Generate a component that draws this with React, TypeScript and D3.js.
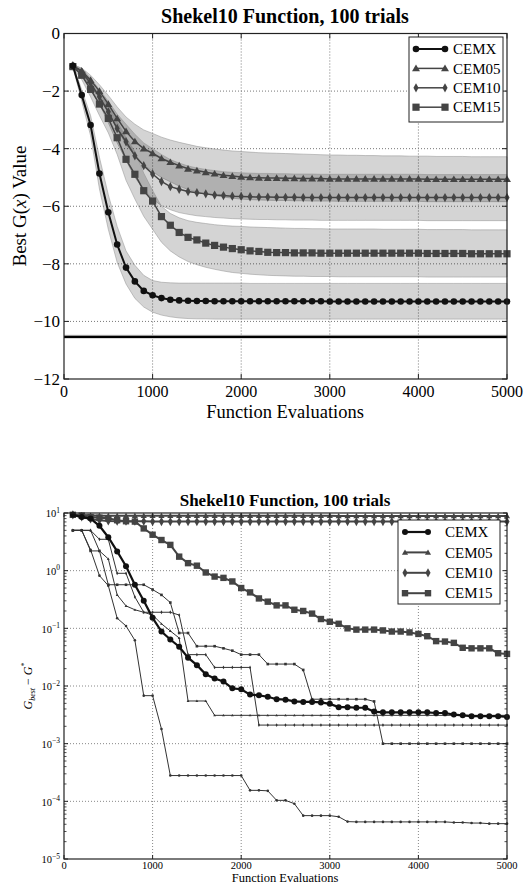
import * as d3 from "d3";

const FONT = "'Liberation Serif', 'DejaVu Serif', serif";

// function evaluations (x positions of every sample)
const evals = [
  100, 200, 300, 400, 500, 600, 700, 800, 900, 1000,
  1100, 1200, 1300, 1400, 1500, 1600, 1700, 1800, 1900, 2000,
  2100, 2200, 2300, 2400, 2500, 2600, 2700, 2800, 2900, 3000,
  3100, 3200, 3300, 3400, 3500, 3600, 3700, 3800, 3900, 4000,
  4100, 4200, 4300, 4400, 4500, 4600, 4700, 4800, 4900, 5000,
];

const seriesNames = ["CEMX", "CEM05", "CEM10", "CEM15"];
const optimum = -10.536;

// ---- top chart: best G(x), mean with band
const topCemx = [
  -1.12, -2.14, -3.18, -4.86, -6.21, -7.33, -8.13, -8.61, -8.94, -9.09,
  -9.19, -9.25, -9.27, -9.28, -9.29, -9.29, -9.3, -9.3, -9.3, -9.3,
  -9.3, -9.3, -9.3, -9.3, -9.3, -9.3, -9.3, -9.3, -9.3, -9.31,
  -9.31, -9.31, -9.31, -9.31, -9.31, -9.31, -9.31, -9.31, -9.31, -9.31,
  -9.31, -9.31, -9.31, -9.31, -9.31, -9.31, -9.31, -9.31, -9.31, -9.31,
];
const topCemxHi = [
  -1.08, -1.95, -2.85, -4.3, -5.6, -6.7, -7.55, -8.05, -8.4, -8.58,
  -8.64, -8.66, -8.67, -8.67, -8.67, -8.67, -8.67, -8.67, -8.67, -8.67,
  -8.68, -8.68, -8.68, -8.68, -8.68, -8.68, -8.68, -8.68, -8.68, -8.68,
  -8.68, -8.68, -8.68, -8.68, -8.68, -8.68, -8.68, -8.68, -8.68, -8.68,
  -8.68, -8.68, -8.68, -8.68, -8.68, -8.68, -8.68, -8.68, -8.68, -8.68,
];
const topCemxLo = [
  -1.16, -2.35, -3.55, -5.4, -6.8, -7.95, -8.7, -9.2, -9.5, -9.68,
  -9.78, -9.84, -9.88, -9.9, -9.91, -9.91, -9.92, -9.92, -9.92, -9.92,
  -9.92, -9.92, -9.92, -9.92, -9.92, -9.92, -9.92, -9.92, -9.92, -9.92,
  -9.92, -9.92, -9.92, -9.92, -9.92, -9.92, -9.92, -9.92, -9.92, -9.92,
  -9.92, -9.92, -9.92, -9.92, -9.92, -9.92, -9.92, -9.92, -9.92, -9.92,
];

const topC05 = [
  -1.12, -1.3, -1.62, -2.0, -2.45, -2.95, -3.4, -3.75, -4.0, -4.16,
  -4.34, -4.47, -4.59, -4.7, -4.76, -4.82, -4.87, -4.92, -4.95, -4.98,
  -5.0, -5.01, -5.02, -5.02, -5.03, -5.03, -5.04, -5.04, -5.04, -5.05,
  -5.05, -5.05, -5.05, -5.05, -5.05, -5.05, -5.05, -5.05, -5.05, -5.05,
  -5.06, -5.06, -5.06, -5.06, -5.06, -5.06, -5.06, -5.06, -5.06, -5.06,
];
const topC05Hi = [
  -1.08, -1.2, -1.45, -1.78, -2.15, -2.55, -2.9, -3.15, -3.35, -3.47,
  -3.6, -3.7, -3.78, -3.85, -3.92, -3.97, -4.01, -4.05, -4.08, -4.1,
  -4.12, -4.14, -4.15, -4.16, -4.17, -4.18, -4.19, -4.2, -4.21, -4.22,
  -4.22, -4.23, -4.23, -4.24, -4.24, -4.25, -4.25, -4.25, -4.26, -4.26,
  -4.26, -4.27, -4.27, -4.27, -4.27, -4.28, -4.28, -4.28, -4.28, -4.28,
];
const topC05Lo = [
  -1.16, -1.4, -1.8, -2.25, -2.75, -3.3, -3.85, -4.25, -4.55, -4.8,
  -5.0, -5.15, -5.3, -5.42, -5.5, -5.57, -5.63, -5.68, -5.72, -5.75,
  -5.77, -5.78, -5.79, -5.8, -5.8, -5.81, -5.81, -5.82, -5.82, -5.82,
  -5.83, -5.83, -5.83, -5.83, -5.83, -5.83, -5.83, -5.83, -5.83, -5.83,
  -5.84, -5.84, -5.84, -5.84, -5.84, -5.84, -5.84, -5.84, -5.84, -5.84,
];

const topC10 = [
  -1.12, -1.33, -1.73, -2.2, -2.72, -3.3, -3.76, -4.25, -4.59, -4.88,
  -5.14, -5.32, -5.41, -5.49, -5.53, -5.57, -5.61, -5.63, -5.65, -5.66,
  -5.67, -5.68, -5.68, -5.69, -5.69, -5.69, -5.7, -5.7, -5.7, -5.7,
  -5.7, -5.7, -5.7, -5.7, -5.7, -5.7, -5.7, -5.7, -5.7, -5.7,
  -5.7, -5.7, -5.7, -5.7, -5.7, -5.7, -5.7, -5.7, -5.7, -5.7,
];
const topC10Hi = [
  -1.08, -1.22, -1.55, -1.95, -2.35, -2.8, -3.15, -3.5, -3.8, -4.0,
  -4.2, -4.38, -4.5, -4.6, -4.67, -4.72, -4.76, -4.8, -4.82, -4.84,
  -4.85, -4.86, -4.86, -4.87, -4.87, -4.88, -4.88, -4.88, -4.89, -4.89,
  -4.89, -4.89, -4.89, -4.89, -4.89, -4.89, -4.89, -4.89, -4.89, -4.89,
  -4.9, -4.9, -4.9, -4.9, -4.9, -4.9, -4.9, -4.9, -4.9, -4.9,
];
const topC10Lo = [
  -1.16, -1.45, -1.9, -2.45, -3.1, -3.8, -4.4, -5.0, -5.4, -5.75,
  -5.98, -6.12, -6.22, -6.28, -6.33, -6.36, -6.39, -6.41, -6.43, -6.44,
  -6.45, -6.46, -6.46, -6.47, -6.47, -6.48, -6.48, -6.48, -6.49, -6.49,
  -6.49, -6.49, -6.49, -6.49, -6.49, -6.49, -6.49, -6.49, -6.49, -6.49,
  -6.5, -6.5, -6.5, -6.5, -6.5, -6.5, -6.5, -6.5, -6.5, -6.5,
];

const topC15 = [
  -1.15, -1.45, -1.94, -2.45, -2.95, -3.62, -4.37, -4.89, -5.46, -5.82,
  -6.36, -6.66, -6.91, -7.08, -7.17, -7.28, -7.36, -7.42, -7.47, -7.51,
  -7.55, -7.57, -7.6, -7.61, -7.61, -7.62, -7.62, -7.62, -7.63, -7.63,
  -7.63, -7.63, -7.63, -7.63, -7.63, -7.63, -7.63, -7.63, -7.63, -7.63,
  -7.64, -7.64, -7.64, -7.64, -7.64, -7.65, -7.65, -7.65, -7.65, -7.65,
];
const topC15Hi = [
  -1.1, -1.3, -1.7, -2.1, -2.5, -3.05, -3.6, -4.1, -4.85, -5.45,
  -6.0, -6.25, -6.4, -6.5, -6.56, -6.6, -6.64, -6.67, -6.69, -6.7,
  -6.72, -6.73, -6.74, -6.75, -6.76, -6.77, -6.77, -6.78, -6.78, -6.79,
  -6.79, -6.79, -6.79, -6.79, -6.79, -6.8, -6.8, -6.8, -6.8, -6.8,
  -6.81, -6.81, -6.81, -6.81, -6.81, -6.82, -6.82, -6.82, -6.82, -6.82,
];
const topC15Lo = [
  -1.2, -1.6, -2.2, -2.85, -3.45, -4.2, -5.1, -5.75, -6.35, -6.8,
  -7.25, -7.55, -7.76, -7.92, -8.03, -8.12, -8.19, -8.25, -8.3, -8.33,
  -8.36, -8.38, -8.4, -8.41, -8.42, -8.43, -8.43, -8.44, -8.44, -8.44,
  -8.45, -8.45, -8.45, -8.45, -8.45, -8.45, -8.45, -8.45, -8.45, -8.45,
  -8.46, -8.46, -8.46, -8.46, -8.46, -8.46, -8.46, -8.46, -8.46, -8.46,
];

// ---- bottom chart: G_best - G*, log scale
const botCemx = [
  9.3, 8.5, 8.0, 6.0, 3.8, 2.16, 1.19, 0.57, 0.3, 0.152,
  0.088, 0.064, 0.048, 0.031, 0.023, 0.016, 0.0135, 0.012, 0.0091, 0.0088,
  0.0071, 0.0069, 0.0065, 0.0059, 0.0058, 0.0054, 0.0053, 0.0053, 0.0052, 0.0049,
  0.0043, 0.0043, 0.0042, 0.0042, 0.0036, 0.0035, 0.0035, 0.0035, 0.0035, 0.0035,
  0.0035, 0.0034, 0.0034, 0.0032, 0.0031, 0.003, 0.003, 0.003, 0.003, 0.0029,
];
const botC05 = [
  9.3, 9.2, 9.1, 9.0, 9.0, 9.0, 9.0, 9.0, 9.0, 9.0,
  9.0, 9.0, 9.0, 9.0, 9.0, 9.0, 9.0, 9.0, 9.0, 9.0,
  9.0, 9.0, 9.0, 9.0, 9.0, 9.0, 9.0, 9.0, 9.0, 9.0,
  8.9, 8.9, 8.9, 8.9, 8.9, 8.9, 8.9, 8.9, 8.9, 8.9,
  8.9, 8.9, 8.9, 8.9, 8.9, 8.9, 8.9, 8.9, 8.9, 8.9,
];
const botC10 = [
  9.3, 8.6, 7.9, 7.5, 7.3, 7.2, 7.2, 7.2, 7.2, 7.1,
  7.1, 7.1, 7.1, 7.1, 7.1, 7.1, 7.1, 7.1, 7.1, 7.1,
  7.1, 7.1, 7.1, 7.1, 7.1, 7.1, 7.1, 7.1, 7.1, 7.1,
  7.1, 7.1, 7.1, 7.1, 7.1, 7.1, 7.1, 7.1, 7.1, 7.1,
  7.1, 7.1, 7.1, 7.1, 7.1, 7.1, 7.1, 7.1, 7.1, 7.1,
];
const botC15 = [
  9.3, 9.0, 8.5, 8.3, 8.1, 7.5, 7.2, 7.1, 5.4, 4.2,
  3.4, 2.8, 1.75, 1.35, 1.22, 0.93, 0.79, 0.75, 0.65, 0.5,
  0.42, 0.33, 0.29, 0.25, 0.25, 0.21, 0.2, 0.18, 0.145, 0.13,
  0.12, 0.1, 0.095, 0.095, 0.095, 0.092, 0.088, 0.088, 0.085, 0.08,
  0.073, 0.06, 0.059, 0.056, 0.046, 0.045, 0.045, 0.045, 0.037, 0.036,
];

// single best runs (thin lines, small markers)
const runCemx = [
  5.0, 5.0, 2.3, 0.82, 0.55, 0.15, 0.11, 0.062, 0.0068, 0.0068,
  0.0018, 0.00028, 0.00028, 0.00028, 0.00028, 0.00028, 0.00028, 0.00028, 0.00028, 0.00028,
  0.000155, 0.000155, 0.000152, 0.000104, 0.000104, 0.000091, 0.0000565, 0.0000565, 0.0000565, 0.0000565,
  0.000054, 0.0000445, 0.000044, 0.000044, 0.000044, 0.000044, 0.000044, 0.000044, 0.000044, 0.000044,
  0.000044, 0.000044, 0.000044, 0.000043, 0.000043, 0.000042, 0.000042, 0.000041, 0.000041, 0.000041,
];
const runC05 = [
  5.0, 5.0, 5.0, 2.2, 1.6, 0.38, 0.245, 0.21, 0.19, 0.17,
  0.12, 0.09, 0.068, 0.0055, 0.0055, 0.0055, 0.0031, 0.0031, 0.0031, 0.0031,
  0.0031, 0.0031, 0.0031, 0.0031, 0.0031, 0.0031, 0.0031, 0.0031, 0.0031, 0.0031,
  0.0031, 0.0031, 0.0031, 0.0031, 0.0031, 0.0031, 0.0031, 0.0031, 0.0031, 0.0031,
  0.0031, 0.0031, 0.0031, 0.0031, 0.0031, 0.0031, 0.0031, 0.0031, 0.0031, 0.0031,
];
const runC10 = [
  5.0, 5.0, 5.0, 3.5, 3.5, 0.9, 0.9, 0.35, 0.19, 0.19,
  0.19, 0.19, 0.17, 0.035, 0.035, 0.035, 0.021, 0.021, 0.021, 0.021,
  0.021, 0.0021, 0.0021, 0.0021, 0.0021, 0.0021, 0.0021, 0.0021, 0.0021, 0.0021,
  0.0021, 0.0021, 0.0021, 0.0021, 0.0021, 0.0021, 0.0021, 0.0021, 0.0021, 0.0021,
  0.0021, 0.0021, 0.0021, 0.0021, 0.0021, 0.0021, 0.0021, 0.0021, 0.0021, 0.0021,
];
const runC15 = [
  5.0, 5.0, 2.2, 2.2, 0.57, 0.57, 0.57, 0.57, 0.57, 0.47,
  0.38, 0.28, 0.083, 0.083, 0.049, 0.049, 0.049, 0.045, 0.041, 0.035,
  0.035, 0.035, 0.024, 0.024, 0.024, 0.024, 0.019, 0.0059, 0.0059, 0.0059,
  0.0059, 0.0059, 0.0059, 0.0059, 0.0054, 0.001, 0.001, 0.001, 0.001, 0.001,
  0.001, 0.001, 0.001, 0.001, 0.001, 0.001, 0.001, 0.001, 0.001, 0.001,
];

const shapes = ["circle", "triangle", "diamond", "square"];

function marker(shape: string, x: number, y: number, s: number, fill: string, key?: any) {
  if (shape === "circle") return <circle key={key} cx={x} cy={y} r={s} fill={fill} />;
  if (shape === "triangle")
    return <path key={key} d={`M${x},${y - s * 1.05}L${x + s * 1.1},${y + s * 0.8}L${x - s * 1.1},${y + s * 0.8}Z`} fill={fill} />;
  if (shape === "diamond")
    return <path key={key} d={`M${x},${y - s * 1.45}L${x + s * 0.8},${y}L${x},${y + s * 1.45}L${x - s * 0.8},${y}Z`} fill={fill} />;
  return <rect key={key} x={x - s} y={y - s} width={2 * s} height={2 * s} fill={fill} />;
}

const minus = (v: number) => String(v).replace("-", "\u2212");

function TopChart() {
  const x = d3.scaleLinear([0, 5000], [64, 507]);
  const y = d3.scaleLinear([-12, 0], [379, 33.5]);
  const series = [
    { mean: topCemx, lo: topCemxLo, hi: topCemxHi, color: "#111", width: 2, size: 3.3 },
    { mean: topC05, lo: topC05Lo, hi: topC05Hi, color: "#444", width: 1.5, size: 3.6 },
    { mean: topC10, lo: topC10Lo, hi: topC10Hi, color: "#444", width: 1.5, size: 3.2 },
    { mean: topC15, lo: topC15Lo, hi: topC15Hi, color: "#444", width: 1.5, size: 3.6 },
  ];
  const band = (lo: number[], hi: number[]) =>
    d3.area<number>().x((d) => x(d)).y0((_, i) => y(lo[i])).y1((_, i) => y(hi[i]))(evals);
  const line = (vals: number[]) => d3.line<number>().x((_, i) => x(evals[i])).y((d) => y(d))(vals);
  const xt = x.ticks(5);
  const yt = y.ticks(6);
  const order = [3, 2, 1, 0];
  return (
    <g>
      <text x={285} y={23} textAnchor="middle" fontSize={20} fontWeight="bold">Shekel10 Function, 100 trials</text>
      {xt.filter((t) => t > 0 && t < 5000).map((t) => (
        <line key={"gx" + t} x1={x(t)} x2={x(t)} y1={y(0)} y2={y(-12)} stroke="#777" strokeDasharray="1,2" />
      ))}
      {yt.filter((t) => t > -12 && t < 0).map((t) => (
        <line key={"gy" + t} x1={x(0)} x2={x(5000)} y1={y(t)} y2={y(t)} stroke="#777" strokeDasharray="1,2" />
      ))}
      {series.map((s, i) => (
        <path key={"b" + i} d={band(s.lo, s.hi) || ""} fill="#000" fillOpacity={0.17} stroke="#888" strokeOpacity={0.6} strokeWidth={0.8} />
      ))}
      <line x1={x(0)} x2={x(5000)} y1={y(optimum)} y2={y(optimum)} stroke="#999" strokeWidth={4} strokeOpacity={0.5} />
      <line x1={x(0)} x2={x(5000)} y1={y(optimum)} y2={y(optimum)} stroke="#000" strokeWidth={2.2} />
      {order.map((i) => {
        const s = series[i];
        return (
          <g key={"s" + i}>
            <path d={line(s.mean) || ""} fill="none" stroke={s.color} strokeWidth={s.width} />
            {s.mean.map((v, j) => marker(shapes[i], x(evals[j]), y(v), s.size, s.color, j))}
          </g>
        );
      })}
      <rect x={64} y={33.5} width={443} height={345.5} fill="none" stroke="#222" strokeWidth={1.2} />
      {xt.map((t) => (
        <g key={"xt" + t}>
          <line x1={x(t)} x2={x(t)} y1={y(-12)} y2={y(-12) - 5} stroke="#222" />
          <line x1={x(t)} x2={x(t)} y1={y(0)} y2={y(0) + 5} stroke="#222" />
          <text x={x(t)} y={397} textAnchor="middle" fontSize={16}>{t}</text>
        </g>
      ))}
      {yt.map((t) => (
        <g key={"yt" + t}>
          <line x1={x(0)} x2={x(0) + 5} y1={y(t)} y2={y(t)} stroke="#222" />
          <line x1={x(5000)} x2={x(5000) - 5} y1={y(t)} y2={y(t)} stroke="#222" />
          <text x={60} y={y(t)} dy="0.35em" textAnchor="end" fontSize={17}>{minus(t)}</text>
        </g>
      ))}
      <text x={285} y={418} textAnchor="middle" fontSize={18.5}>Function Evaluations</text>
      <text transform="translate(26,206) rotate(-90)" textAnchor="middle" fontSize={19}>
        Best G(<tspan fontStyle="italic">x</tspan>) Value
      </text>
      <g>
        <rect x={409} y={37} width={94} height={85} fill="#fff" stroke="#222" strokeWidth={1} />
        {seriesNames.map((n, i) => {
          const yy = 49 + i * 19.4;
          const s = series[i];
          return (
            <g key={"lg" + n}>
              <line x1={416} x2={445} y1={yy} y2={yy} stroke={s.color} strokeWidth={s.width} />
              {marker(shapes[i], 416, yy, s.size, s.color, "a")}
              {marker(shapes[i], 445, yy, s.size, s.color, "b")}
              <text x={453} y={yy} dy="0.35em" fontSize={15}>{n}</text>
            </g>
          );
        })}
      </g>
    </g>
  );
}

function BottomChart() {
  const x = d3.scaleLinear([0, 5000], [64, 507]);
  const y = d3.scaleLog([1e-5, 10], [859, 513]);
  const line = (vals: number[]) => d3.line<number>().x((_, i) => x(evals[i])).y((d) => y(d))(vals);
  const xt = x.ticks(5);
  const majors = [1e-5, 1e-4, 1e-3, 1e-2, 1e-1, 1, 10];
  const exps = [-5, -4, -3, -2, -1, 0, 1];
  const minors = y.ticks().filter((t) => !majors.some((m) => Math.abs(t / m - 1) < 1e-6));
  const thick = [
    { vals: botCemx, color: "#111", width: 2.2, size: 3 },
    { vals: botC05, color: "#444", width: 2, size: 2.8 },
    { vals: botC10, color: "#444", width: 2, size: 3.2 },
    { vals: botC15, color: "#444", width: 2, size: 3.2 },
  ];
  const runs = [runCemx, runC05, runC10, runC15];
  return (
    <g>
      <text x={285} y={506} textAnchor="middle" fontSize={17} fontWeight="bold">Shekel10 Function, 100 trials</text>
      {xt.filter((t) => t > 0 && t < 5000).map((t) => (
        <line key={"gx" + t} x1={x(t)} x2={x(t)} y1={513} y2={859} stroke="#888" strokeDasharray="1,2" />
      ))}
      {majors.slice(1, -1).map((t) => (
        <line key={"gy" + t} x1={64} x2={507} y1={y(t)} y2={y(t)} stroke="#888" strokeDasharray="1,2" />
      ))}
      {runs.map((r, i) => (
        <g key={"r" + i}>
          <path d={line(r) || ""} fill="none" stroke="#333" strokeWidth={1} />
          {r.map((v, j) => marker(shapes[i], x(evals[j]), y(v), 1.3, "#333", j))}
        </g>
      ))}
      {[3, 2, 1, 0].map((i) => {
        const s = thick[i];
        return (
          <g key={"t" + i}>
            <path d={line(s.vals) || ""} fill="none" stroke={s.color} strokeWidth={s.width} />
            {s.vals.map((v, j) => marker(shapes[i], x(evals[j]), y(v), s.size, s.color, j))}
          </g>
        );
      })}
      <rect x={64} y={513} width={443} height={346} fill="none" stroke="#222" strokeWidth={1.2} />
      {xt.map((t) => (
        <g key={"xt" + t}>
          <line x1={x(t)} x2={x(t)} y1={859} y2={855} stroke="#222" />
          <line x1={x(t)} x2={x(t)} y1={513} y2={517} stroke="#222" />
          <text x={x(t)} y={868.5} textAnchor="middle" fontSize={10.5}>{t}</text>
        </g>
      ))}
      {majors.map((t, i) => (
        <g key={"yt" + i}>
          <line x1={64} x2={68} y1={y(t)} y2={y(t)} stroke="#222" />
          <line x1={507} x2={503} y1={y(t)} y2={y(t)} stroke="#222" />
          <text x={60} y={y(t)} dy="0.4em" textAnchor="end" fontSize={10.5}>
            10<tspan fontSize={7.5} dy="-0.6em">{minus(exps[i])}</tspan>
          </text>
        </g>
      ))}
      {minors.map((t, i) => (
        <g key={"mt" + i}>
          <line x1={64} x2={66.5} y1={y(t)} y2={y(t)} stroke="#222" strokeWidth={0.8} />
          <line x1={507} x2={504.5} y1={y(t)} y2={y(t)} stroke="#222" strokeWidth={0.8} />
        </g>
      ))}
      <text x={285} y={881.5} textAnchor="middle" fontSize={12.5}>Function Evaluations</text>
      <text transform="translate(32,686) rotate(-90)" textAnchor="middle" fontSize={12}>
        <tspan fontStyle="italic">G</tspan>
        <tspan fontSize={8} fontStyle="italic" dy="3">best</tspan>
        <tspan dy="-3"> {"\u2212"} </tspan>
        <tspan fontStyle="italic">G</tspan>
        <tspan fontSize={8} dy="-5">*</tspan>
      </text>
      <g>
        <rect x={398} y={520} width={102} height={84} fill="#fff" stroke="#222" strokeWidth={1} />
        {seriesNames.map((n, i) => {
          const yy = 532 + i * 20.4;
          const s = thick[i];
          return (
            <g key={"lg" + n}>
              <line x1={405} x2={428} y1={yy} y2={yy} stroke={s.color} strokeWidth={s.width} />
              {marker(shapes[i], 405, yy, s.size, s.color, "a")}
              {marker(shapes[i], 428, yy, s.size, s.color, "b")}
              <text x={445} y={yy} dy="0.35em" fontSize={15}>{n}</text>
            </g>
          );
        })}
      </g>
    </g>
  );
}

export default function App() {
  return (
    <svg
      width={527}
      height={886}
      viewBox="0 0 527 886"
      style={{ position: "absolute", left: 0, top: 0, background: "#fff" }}
      fontFamily={FONT}
    >
      <TopChart />
      <BottomChart />
    </svg>
  );
}
